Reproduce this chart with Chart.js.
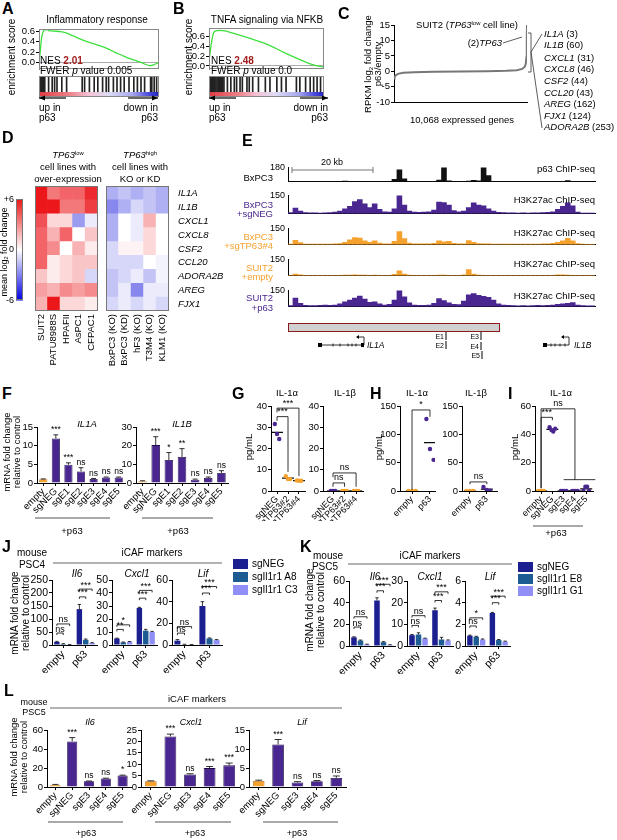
<!DOCTYPE html>
<html><head><meta charset="utf-8">
<script src="https://cdn.jsdelivr.net/npm/chart.js@4.4.1/dist/chart.umd.min.js"></script>
<style>
body{margin:0;background:#fff;}
#fig{position:relative;width:617px;height:840px;overflow:hidden;font-family:'Liberation Sans',Arial,sans-serif;}
#fig canvas{position:absolute;}
#fig div{position:absolute;}
sup{font-size:0.62em;vertical-align:0.5em;line-height:0}
sub{font-size:0.62em;vertical-align:-0.25em;line-height:0}
</style></head>
<body><div id="fig"></div>
<script>
// ---- data ----
const esAx = [0, 1, 2, 4, 6, 8, 12, 18, 22, 28, 35, 42, 50, 57, 63, 69, 75, 80, 85, 88, 92, 95, 97, 100];
const esAy = [0.0, 0.2, 0.45, 0.62, 0.64, 0.62, 0.61, 0.6, 0.58, 0.52, 0.45, 0.39, 0.33, 0.27, 0.2, 0.14, 0.08, 0.04, 0.0, -0.03, -0.06, -0.05, -0.03, 0.0];
const hitsA = [0, 0.8, 1.6, 2.4, 3.2, 4, 4.8, 8, 11, 13, 15, 19, 23, 36, 38, 42, 46, 49, 53, 56, 58, 62, 65, 68, 71, 75, 79, 82, 85, 88, 93, 94, 96, 98];
const esBx = [0, 2, 4, 6, 9, 14, 20, 35, 50, 65, 79, 88, 94, 100];
const esBy = [0.1, 0.45, 0.68, 0.72, 0.73, 0.72, 0.68, 0.57, 0.45, 0.28, 0.13, 0.04, 0.0, -0.02];
const hitsB = [0, 1, 2, 3, 4, 5, 6, 7, 8, 9, 10, 11, 12, 13, 16, 19, 22, 24, 27, 29, 33, 35, 38, 43, 49, 53, 59, 63, 67, 76, 79, 84, 88, 91, 94, 97];

const cRank = [0, 40, 120, 300, 700, 1500, 3000, 5000, 7000, 8500, 9300, 9700, 9900, 9980, 10020, 10045, 10058, 10068];
const cLogFC = [-2.3, -1.8, -1.3, -0.8, -0.45, -0.25, -0.1, 0, 0.08, 0.2, 0.4, 0.8, 1.5, 2.5, 4.5, 7.5, 11, 15];
const cGenes = ['IL1A (3)', 'IL1B (60)', 'CXCL1 (31)', 'CXCL8 (46)', 'CSF2 (44)', 'CCL20 (43)', 'AREG (162)', 'FJX1 (124)', 'ADORA2B (253)'];

const heatGenes = ['IL1A', 'IL1B', 'CXCL1', 'CXCL8', 'CSF2', 'CCL20', 'ADORA2B', 'AREG', 'FJX1'];
const colsLow = ['SUIT2', 'PATU8988S', 'HPAFII', 'AsPC1', 'CFPAC1'];
const colsHigh = ['BxPC3 (KO)', 'BxPC3 (KD)', 'hF3 (KO)', 'T3M4 (KO)', 'KLM1 (KO)'];
const heatLow = [[6, 3.5, 4, 4, 5.5], [6, 6, 3.5, 3.5, 5], [4.5, 1, 1, -2.5, -0.5], [4, 2, 4, 0, 1.5], [4, 3, 0, 2, 0.5],
                 [4, 0.5, 1, 1.5, 1.5], [1.5, 0.5, 1, 1.5, -1], [2.5, 2, 3, 2.5, 3], [2, 6, 1, 1, 0.5]];
const heatHigh = [[-2, -1.5, -2, -1.5, -2], [-3, -2, -1, -1.5, -2], [-2, 0, -0.5, 2, 0], [-2, 0, -0.5, 1, 0], [-1, 0.3, 0.3, 1, 0],
                  [-1, -1, -1, 0, -0.3], [-1.5, -1, -0.5, -1.5, -0.3], [-1.5, -0.5, -3, -0.5, -0.5], [-1, -0.5, -1, -0.5, -1]];

const p63Track = [0,0,0,1,0,0,0,4,0,0, 0,6,0,0,3,0,0,4,0,0, 0,30,150,35,5,0,0,3,0,2, 18,185,10,0,0,3,8,15,10,185, 75,5,1,0,1,0,0,1,0,0, 1,0,0,1,0,2,12,3,0,0, 0,0];
const bxNegTrack = [8,45,20,8,6,6,5,6,8,12, 20,40,60,100,115,80,50,80,35,15, 12,40,150,70,20,12,10,12,15,30, 95,90,70,25,15,20,50,88,70,65, 40,20,10,8,6,6,5,6,5,6, 6,8,10,15,35,60,88,65,12,5, 4,4];
const bxKoTrack = [5,40,18,5,4,4,4,5,5,6, 10,20,45,65,60,35,20,35,15,8, 8,30,120,55,15,8,6,6,8,12, 35,25,30,12,6,8,38,20,10,8, 6,5,4,4,4,4,5,4,4,5, 5,6,8,12,20,35,58,35,10,4, 3,3];
const suitEmptyTrack = [3,14,6,2,2,2,2,3,2,2, 3,4,5,6,5,4,3,4,3,2, 3,12,45,15,4,3,2,2,2,3, 5,4,3,2,3,8,55,15,4,3, 2,2,2,2,2,2,2,2,2,2, 2,2,2,3,6,8,5,3,2,2, 2,2];
const suitP63Track = [10,78,30,12,10,10,12,15,12,15, 25,45,60,80,98,70,40,45,25,15, 20,60,150,90,35,15,12,12,15,30, 75,55,35,20,18,50,110,120,105,95, 85,60,25,15,12,10,8,10,8,10, 12,10,12,15,20,25,30,38,15,10, 8,6];

const fLabels = ['empty', 'sgNEG', 'sgE1', 'sgE2', 'sgE3', 'sgE4', 'sgE5'];
const fIL1A = [1, 11.9, 4.9, 3.1, 1.1, 1.5, 1.5];
const fIL1AErr = [0.1, 1, 0.5, 1, 0.1, 0.1, 0.1];
const fIL1AStars = ['', '***', '***', 'ns', 'ns', 'ns', 'ns'];
const fIL1B = [1, 20.3, 12.3, 13.9, 1.8, 2.7, 5.4];
const fIL1BErr = [0.2, 4.5, 4, 4.5, 0.3, 0.5, 1.2];
const fIL1BStars = ['', '***', '*', '**', 'ns', 'ns', 'ns'];

const gLabels = ['sgNEG', 'sgTP63#2', 'sgTP63#4'];
const gIL1a = [[31.5, 26.8, 24.5], [7, 5.6, 5.6], [5, 4.8, 4.8]];
const gIL1b = [[0, 0, 0], [0, 0, 0], [0, 0, 0]];
const hLabels = ['empty', 'p63'];
const hIL1a = [[0, 0, 0], [127, 74, 55]];
const hIL1b = [[0, 0, 0], [7, 2, 0.5]];
const iLabels = ['empty', 'sgNEG', 'sgE3', 'sgE4', 'sgE5'];
const iIL1a = [[0, 0, 0, 0], [45, 43, 42, 44], [0, 0, 0, 0], [0, 0, 0, 0], [0, 3, 3, 0]];
const jitter3 = [-0.2, 0, 0.2];
const jitter4 = [-0.25, -0.08, 0.08, 0.25];

const groupLabels = ['empty', 'p63'];
const jIl6 = [[12, 138], [4, 20], [1, 8]];
const jIl6Err = [[2, 18], [1, 3], [0.5, 1]];
const jCxcl1 = [[5, 28.5], [2, 11], [2.5, 10]];
const jCxcl1Err = [[0.3, 0.5], [0.3, 1], [0.2, 0.5]];
const jLif = [[4, 36], [0.5, 6], [0.3, 4.5]];
const jLifErr = [[1, 4], [0.2, 0.5], [0.1, 0.5]];
const kIl6 = [[8, 42], [5, 3.5], [1.5, 1]];
const kIl6Err = [[0.5, 2.5], [0.5, 0.5], [0.2, 0.2]];
const kCxcl1 = [[5, 16.5], [5.3, 3], [3.5, 2.5]];
const kCxcl1Err = [[0.3, 1], [0.8, 1], [0.1, 0.3]];
const kLif = [[0.95, 3.05], [0.85, 0.55], [0.6, 0.4]];
const kLifErr = [[0.05, 0.05], [0.05, 0.05], [0.05, 0.05]];

const lLabels = ['empty', 'sgNEG', 'sgE3', 'sgE4', 'sgE5'];
const lIl6 = [2.5, 48, 6, 9, 12];
const lIl6Err = [0.2, 4, 0.3, 0.3, 0.5];
const lIl6Stars = ['', '***', 'ns', 'ns', '*'];
const lCxcl1 = [2.5, 22.2, 5.5, 8.3, 9.5];
const lCxcl1Err = [0.2, 1, 0.3, 0.7, 1];
const lCxcl1Stars = ['', '***', 'ns', '***', '***'];
const lLif = [1.6, 11.2, 1.2, 1.5, 2.4];
const lLifErr = [0.2, 1.3, 0.2, 0.2, 0.5];
const lLifStars = ['', '***', 'ns', 'ns', 'ns'];

// ---- styling ----
const FF = "'Liberation Sans', Arial, sans-serif";
const FN = "'Liberation Sans Narrow', 'Liberation Sans', Arial, sans-serif";
const PURPLE = '#4a2690', ORANGE = '#f4a22d', GREEN = '#3ee03e';
const NAVY = '#1c1f8f', TEAL = '#1d5c92', LAV = '#8f8ff5';

Chart.defaults.font.family = FF;
Chart.defaults.font.size = 9.5;
Chart.defaults.color = '#000';
Chart.defaults.animation = false;
Chart.defaults.plugins.legend.display = false;
Chart.defaults.plugins.tooltip.enabled = false;

const fig = document.getElementById('fig');

const annotPlugin = {
  id: 'annot',
  afterDatasetsDraw(chart, args, opts) {
    const ctx = chart.ctx;
    ctx.save();
    ctx.strokeStyle = '#000';
    ctx.fillStyle = '#000';
    ctx.lineWidth = 0.8;
    ctx.font = (opts.fs || 8) + 'px ' + (opts.ff || FF);
    ctx.textAlign = 'center';
    ctx.textBaseline = 'bottom';
    chart.data.datasets.forEach((ds, di) => {
      if (!ds.err && !ds.stars) return;
      const meta = chart.getDatasetMeta(di);
      const ys = chart.scales[meta.yAxisID];
      meta.data.forEach((el, i) => {
        const v = ds.data[i], e = ds.err ? ds.err[i] : 0;
        const yTop = ys.getPixelForValue(v + e);
        if (e) {
          const w = Math.max(1.5, el.width * 0.3);
          ctx.beginPath();
          ctx.moveTo(el.x, ys.getPixelForValue(v));
          ctx.lineTo(el.x, yTop);
          ctx.moveTo(el.x - w, yTop);
          ctx.lineTo(el.x + w, yTop);
          ctx.stroke();
        }
        if (ds.stars && ds.stars[i]) ctx.fillText(ds.stars[i], el.x, yTop - 1);
      });
    });
    const ys = chart.scales.y, xs = chart.scales.x;
    (opts.groups || []).forEach(g => {
      const x1 = chart.getDatasetMeta(g[1]).data[g[0]].x;
      const x2 = chart.getDatasetMeta(g[2]).data[g[0]].x;
      const y = ys.getPixelForValue(g[3]);
      ctx.beginPath();
      ctx.moveTo(x1, y + 2); ctx.lineTo(x1, y); ctx.lineTo(x2, y); ctx.lineTo(x2, y + 2);
      ctx.stroke();
      ctx.fillText(g[4], (x1 + x2) / 2, y + 0.5);
    });
    (opts.brackets || []).forEach(b => {
      const x1 = xs.getPixelForValue(b.x1), x2 = xs.getPixelForValue(b.x2), y = ys.getPixelForValue(b.y);
      ctx.beginPath();
      ctx.moveTo(x1, ys.getPixelForValue(b.e1)); ctx.lineTo(x1, y); ctx.lineTo(x2, y); ctx.lineTo(x2, ys.getPixelForValue(b.e2));
      if (b.under) {
        const yu = ys.getPixelForValue(b.e2);
        ctx.moveTo(xs.getPixelForValue(b.under[0]), yu);
        ctx.lineTo(xs.getPixelForValue(b.under[1]), yu);
      }
      ctx.stroke();
      ctx.fillText(b.t, (x1 + x2) / 2, y - 0.5);
    });
    ctx.restore();
  }
};

const framePlugin = {
  id: 'frame',
  afterDraw(chart, args, opts) {
    if (!opts.color) return;
    const a = chart.chartArea, ctx = chart.ctx;
    ctx.save();
    ctx.strokeStyle = opts.color;
    ctx.lineWidth = 1;
    ctx.strokeRect(Math.round(a.left) + 0.5, Math.round(a.top) + 0.5, Math.round(a.width) - 1, Math.round(a.height) - 1);
    ctx.restore();
  }
};

const rankPlugin = {
  id: 'rankbar',
  beforeDatasetsDraw(chart, args, opts) {
    if (!opts.on) return;
    const a = chart.chartArea, ctx = chart.ctx;
    const g = ctx.createLinearGradient(a.left, 0, a.right, 0);
    g.addColorStop(0, '#e23a44');
    g.addColorStop(0.25, '#ee8088');
    g.addColorStop(0.42, '#f4c4d6');
    g.addColorStop(0.58, '#dcdcf4');
    g.addColorStop(0.78, '#a8a8ee');
    g.addColorStop(0.92, '#4848dc');
    g.addColorStop(1, '#2222c0');
    ctx.save();
    ctx.fillStyle = g;
    ctx.fillRect(a.left, a.bottom - 5, a.width, 5);
    ctx.restore();
  }
};
Chart.register(annotPlugin, framePlugin, rankPlugin);

// place a chart so that its plot area lands on the given box
function mk(axisX, plotTop, plotW, plotH, yw, xh, config, pad) {
  pad = Object.assign({t: 8, r: 6}, pad || {});
  const c = document.createElement('canvas');
  const W = yw + plotW + pad.r, H = pad.t + plotH + xh;
  c.width = W; c.height = H;
  c.style.cssText = `left:${axisX - yw}px;top:${plotTop - pad.t}px;width:${W}px;height:${H}px`;
  fig.appendChild(c);
  const o = config.options = config.options || {};
  o.responsive = false;
  o.maintainAspectRatio = false;
  o.layout = {padding: {top: pad.t, right: pad.r, left: 0, bottom: 0}};
  if (o.scales.x) o.scales.x.afterFit = s => { s.height = xh; };
  if (o.scales.y) o.scales.y.afterFit = s => { s.width = yw; };
  return new Chart(c, config);
}

const YW = 40;
function yAx(min, max, step, fs, ff) {
  return {type: 'linear', min, max,
    ticks: {stepSize: step, padding: 1, autoSkip: false, font: {size: fs || 9.5, family: ff || FF}},
    grid: {drawOnChartArea: false, tickLength: 3, color: '#000'},
    border: {color: '#000'}};
}
function xCat(fs, ff) {
  return {ticks: {minRotation: 45, maxRotation: 45, autoSkip: false, padding: 0, font: {size: fs, family: ff || FF}},
    grid: {drawOnChartArea: false, tickLength: 3, color: '#000', offset: false},
    border: {color: '#000'}};
}
function xPts(labels, min, max, fs) {
  return {type: 'linear', min, max,
    afterBuildTicks: s => { s.ticks = labels.map((_, i) => ({value: i})); },
    ticks: {callback: v => labels[v], minRotation: 45, maxRotation: 45, autoSkip: false, padding: 0, font: {size: fs || 9}},
    grid: {drawOnChartArea: false, tickLength: 3, color: '#000'},
    border: {color: '#000'}};
}

// ---- A, B: GSEA ----
function gsea(axisX, top, w, h, xs, ys, hits, yMin, yMax) {
  mk(axisX, top, w, h, YW, 0, {
    type: 'scatter',
    data: {datasets: [{data: xs.map((x, i) => ({x, y: ys[i]})), showLine: true, borderColor: GREEN, borderWidth: 1.3,
      pointRadius: 0, cubicInterpolationMode: 'monotone'}]},
    options: {
      scales: {
        x: {type: 'linear', display: false, min: 0, max: 100},
        y: {min: yMin, max: yMax,
          afterBuildTicks: s => { s.ticks = [0, 0.2, 0.4, 0.6].map(v => ({value: v})); },
          ticks: {callback: v => v.toFixed(1), padding: 1, autoSkip: false},
          grid: {color: c => (c.tick && c.tick.value === 0) ? '#aaa' : 'rgba(0,0,0,0)', tickColor: '#000', tickLength: 3},
          border: {color: '#888'}}
      },
      plugins: {frame: {color: '#888'}}
    }
  });
  mk(axisX, top + h, w, 21, 0, 0, {
    type: 'bar',
    data: {datasets: [{data: hits.map(x => ({x, y: [0.25, 1]})), backgroundColor: '#222', barThickness: 1}]},
    options: {
      scales: {
        x: {type: 'linear', display: false, min: 0, max: 100, offset: false},
        y: {display: false, min: 0, max: 1}
      },
      plugins: {frame: {color: '#888'}, rankbar: {on: true}}
    }
  }, {t: 0, r: 2});
}
gsea(39, 29, 120, 47, esAx, esAy, hitsA, -0.133, 0.65);
gsea(209, 28, 115, 48, esBx, esBy, hitsB, -0.07, 0.78);

// ---- C: ranked fold change ----
mk(394, 25, 133, 84, YW, 0, {
  type: 'scatter',
  data: {datasets: [{data: cRank.map((x, i) => ({x, y: cLogFC[i]})), showLine: true, borderColor: '#777', borderWidth: 2, pointRadius: 0}]},
  options: {
    scales: {
      x: {type: 'linear', min: 0, max: 10068, ticks: {display: false}, grid: {display: false, drawTicks: false}, border: {color: '#000'}},
      y: yAx(-10, 15, 5)
    }
  }
});

// ---- D: heatmap ----
function heatColor(v) {
  const t = Math.max(-1, Math.min(1, v / 6));
  if (t >= 0) return `rgb(${Math.round(255 - 20 * t)},${Math.round(255 - 232 * t)},${Math.round(255 - 228 * t)})`;
  const u = -t;
  return `rgb(${Math.round(255 - 240 * u)},${Math.round(255 - 240 * u)},${Math.round(255 - 35 * u)})`;
}
function heatSets(rows) {
  return heatGenes.map((g, r) => ({label: g, data: rows[r].map(() => 1), backgroundColor: rows[r].map(heatColor),
    borderWidth: 0, barPercentage: 1, categoryPercentage: 1})).reverse();
}
function heat(axisX, cols, rows) {
  mk(axisX, 186, 69, 125, 0, 62, {
    type: 'bar',
    data: {labels: cols, datasets: heatSets(rows)},
    options: {
      scales: {
        x: {stacked: true, ticks: {minRotation: 90, maxRotation: 90, autoSkip: false, padding: 3, font: {size: 9.5}},
          grid: {display: false, drawTicks: false}, border: {display: false}},
        y: {display: false, stacked: true, min: 0, max: 9}
      },
      plugins: {frame: {color: '#777'}}
    }
  }, {t: 2, r: 2});
}
heat(35, colsLow, heatLow);
heat(106, colsHigh, heatHigh);

mk(16, 198, 7, 110, 30, 0, {
  type: 'bar',
  data: {labels: [''], datasets: [{data: [[-6, 6]], borderWidth: 0, barPercentage: 1, categoryPercentage: 1,
    backgroundColor: c => {
      const a = c.chart.chartArea;
      if (!a) return '#fff';
      const g = c.chart.ctx.createLinearGradient(0, a.bottom, 0, a.top);
      g.addColorStop(0, '#0000e6'); g.addColorStop(0.5, '#ffffff'); g.addColorStop(1, '#eb1717');
      return g;
    }}]},
  options: {
    scales: {
      x: {display: false},
      y: {min: -6, max: 6, afterBuildTicks: s => { s.ticks = [-6, 0, 6].map(v => ({value: v})); },
        ticks: {callback: v => v > 0 ? '+' + v : String(v), padding: 2, autoSkip: false, font: {size: 9}},
        grid: {display: false, drawTicks: false}, border: {display: false}}
    },
    plugins: {frame: {color: '#777'}}
  }
}, {t: 6, r: 2});

// ---- E: ChIP-seq tracks ----
function track(top, h, max, data, color) {
  mk(288, top, 307, h, YW, 0, {
    type: 'bar',
    data: {labels: data.map((_, i) => i), datasets: [{data, backgroundColor: color, borderWidth: 0, barPercentage: 1, categoryPercentage: 1, clip: 0}]},
    options: {
      scales: {
        x: {ticks: {display: false}, grid: {display: false, drawTicks: false}, border: {color: '#000'}},
        y: {min: 0, max, afterBuildTicks: s => { s.ticks = [{value: max}]; }, ticks: {padding: 3, font: {size: 9}},
          grid: {display: false, drawTicks: false}, border: {color: '#000'}}
      }
    }
  }, {t: 6, r: 2});
}
track(165, 25, 180, p63Track, '#111');
track(193, 29, 150, bxNegTrack, PURPLE);
track(226, 27, 150, bxKoTrack, ORANGE);
track(257, 27, 150, suitEmptyTrack, ORANGE);
track(288, 27, 150, suitP63Track, PURPLE);

// ---- F, L: bars with error ----
function barsStars(axisX, top, w, h, xh, min, max, step, labels, vals, errs, stars, fs, tfs, ff, bp) {
  mk(axisX, top, w, h, YW, xh, {
    type: 'bar',
    data: {labels, datasets: [{data: vals, err: errs, stars, backgroundColor: vals.map((_, i) => i === 0 ? ORANGE : PURPLE),
      borderColor: vals.map((_, i) => i === 0 ? '#b86a10' : '#1d0a45'), borderWidth: 0.8, barPercentage: bp, categoryPercentage: 1}]},
    options: {
      scales: {x: xCat(tfs, ff), y: yAx(min, max, step, tfs, ff)},
      plugins: {annot: {fs, ff}}
    }
  });
}
barsStars(37, 427, 88, 56, 32, 0, 15, 5, fLabels, fIL1A, fIL1AErr, fIL1AStars, 8.5, 9.5, FF, 0.65);
barsStars(136, 427, 92, 56, 32, 0, 30, 10, fLabels, fIL1B, fIL1BErr, fIL1BStars, 8.5, 9.5, FF, 0.65);

// ---- G, H, I: dot plots ----
function dotChart(axisX, w, max, step, labels, groups, colors, jit, xmin, xmax, brackets) {
  const sets = groups.map((vals, g) => ({data: vals.map((v, k) => ({x: g + jit[k], y: v})), backgroundColor: colors[g],
    borderColor: colors[g], pointRadius: 2.2, borderWidth: 0}));
  sets.push({data: groups.map((vals, g) => ({x: g, y: vals.reduce((a, b) => a + b, 0) / vals.length})),
    pointStyle: 'line', pointRadius: 6, borderColor: '#000', borderWidth: 1.2});
  mk(axisX, 406, w, 85, YW, 30, {
    type: 'scatter',
    data: {datasets: sets},
    options: {
      scales: {x: xPts(labels, xmin, xmax, 9), y: yAx(0, max, step)},
      plugins: {annot: {fs: 9, brackets}}
    }
  }, {r: 8});
}
dotChart(271, 34, 40, 10, gLabels, gIL1a, [PURPLE, ORANGE, ORANGE], jitter3, -0.55, 2.55,
  [{x1: 0, x2: 1, y: 35, e1: 33, e2: 9, t: '***'}, {x1: 0, x2: 2, y: 39, e1: 37, e2: 7, t: '***'}]);
dotChart(323, 40, 40, 10, gLabels, gIL1b, [PURPLE, ORANGE, ORANGE], jitter3, -0.87, 2.6,
  [{x1: 0, x2: 1, y: 3.8, e1: 2, e2: 2, t: 'ns'}, {x1: 0, x2: 2, y: 8.5, e1: 6.5, e2: 2, t: 'ns'}]);
dotChart(400, 35, 150, 50, hLabels, hIL1a, [ORANGE, PURPLE], jitter3, -0.67, 1.28,
  [{x1: 0, x2: 1, y: 143, e1: 2, e2: 131, t: '*'}]);
dotChart(462, 35, 150, 50, hLabels, hIL1b, [ORANGE, PURPLE], jitter3, -0.47, 1.6,
  [{x1: 0, x2: 1, y: 16, e1: 12, e2: 12, t: 'ns'}]);
dotChart(535, 58, 60, 20, iLabels, iIL1a, [ORANGE, PURPLE, PURPLE, PURPLE, PURPLE], jitter4, -0.54, 4.6,
  [{x1: 0, x2: 1, y: 52, e1: 2, e2: 50, t: '***'}, {x1: 0, x2: 3, y: 58, e1: 2, e2: 8, t: 'ns', under: [2, 4.8]}]);

// ---- J, K: grouped bars ----
const grpColors = [NAVY, TEAL, LAV];
function grp(axisX, top, w, max, step, sets, errs, groups) {
  mk(axisX, top, w, 65, YW, 28, {
    type: 'bar',
    data: {labels: groupLabels, datasets: sets.map((d, k) => ({data: d, err: errs[k], backgroundColor: grpColors[k],
      borderWidth: 0, barPercentage: 0.85, categoryPercentage: 0.85}))},
    options: {
      scales: {x: xCat(10.5), y: yAx(0, max, step, 10.5)},
      plugins: {annot: {fs: 9, groups}}
    }
  });
}
grp(52, 580, 45, 250, 50, jIl6, jIl6Err, [[0, 0, 1, 46, 'ns'], [0, 0, 2, 81, 'ns'], [1, 0, 1, 185, '***'], [1, 0, 2, 215, '***']]);
grp(112, 580, 45, 50, 10, jCxcl1, jCxcl1Err, [[0, 0, 1, 12, '**'], [0, 0, 2, 15.5, '*'], [1, 0, 1, 36, '***'], [1, 0, 2, 42, '***']]);
grp(172, 580, 50, 60, 20, jLif, jLifErr, [[0, 0, 1, 11, 'ns'], [0, 0, 2, 17, 'ns'], [1, 0, 1, 48, '***'], [1, 0, 2, 54, '***']]);
grp(349, 581, 46, 60, 20, kIl6, kIl6Err, [[0, 0, 1, 17.5, 'ns'], [0, 0, 2, 27, 'ns'], [1, 0, 1, 51, '***'], [1, 0, 2, 57, '***']]);
grp(407, 581, 46, 30, 10, kCxcl1, kCxcl1Err, [[0, 0, 1, 9.5, 'ns'], [0, 0, 2, 14, 'ns'], [1, 0, 1, 21, '***'], [1, 0, 2, 25, '***']]);
grp(465, 581, 45, 6, 2, kLif, kLifErr, [[0, 0, 1, 1.85, 'ns'], [0, 0, 2, 2.6, '*'], [1, 0, 1, 4.0, '***'], [1, 0, 2, 4.6, '***']]);

// ---- L ----
barsStars(47, 730, 84, 57, 34, 0, 60, 20, lLabels, lIl6, lIl6Err, lIl6Stars, 8.5, 9.5, FN, 0.6);
barsStars(141, 730, 98, 57, 34, 0, 25, 5, lLabels, lCxcl1, lCxcl1Err, lCxcl1Stars, 8.5, 9.5, FN, 0.6);
barsStars(249, 730, 97, 57, 34, 0, 15, 5, lLabels, lLif, lLifErr, lLifStars, 8.5, 9.5, FN, 0.6);

// ---- text ----
function T(x, y, html, o) {
  o = o || {};
  const d = document.createElement('div');
  const ax = o.a === 'c' ? '-50%' : o.a === 'r' ? '-100%' : '0';
  d.innerHTML = html;
  d.style.cssText = `left:${x}px;top:${y}px;font-size:${o.s || 10}px;line-height:${o.lh || 1};white-space:nowrap;text-align:center;` +
    `color:${o.c || '#000'};font-weight:${o.b ? 'bold' : 'normal'};font-style:${o.i ? 'italic' : 'normal'};` +
    `font-family:${o.f || FF};transform:translate(${o.rot ? '-50%' : ax},-50%)${o.rot ? ' rotate(-90deg)' : ''};`;
  fig.appendChild(d);
}
const P = {s: 16, b: 1};
// A / B
T(2, 9, 'A', P);
T(97, 20, 'Inflammatory response', {a: 'c'});
T(12, 57, 'enrichment score', {rot: 1});
T(40, 61, 'NES <b style="color:#a11d1d">2.01</b>');
T(40, 71, 'FWER <i>p</i> value 0.005');
T(39, 108, 'up in'); T(39, 118, 'p63');
T(158, 108, 'down in', {a: 'r'}); T(158, 118, 'p63', {a: 'r'});
T(173, 9, 'B', P);
T(267, 20, 'TNFA signaling via NFKB', {a: 'c'});
T(189, 57, 'enrichment score', {rot: 1});
T(211, 61, 'NES <b style="color:#a11d1d">2.48</b>');
T(211, 71, 'FWER <i>p</i> value 0.0');
T(209, 108, 'up in'); T(209, 118, 'p63');
T(328, 108, 'down in', {a: 'r'}); T(328, 118, 'p63', {a: 'r'});
// C
T(338, 14, 'C', P);
T(373, 64, 'RPKM log<sub>2</sub> fold change<br>p63/empty', {rot: 1, s: 9.5, lh: 1.05});
T(467, 25, 'SUIT2 (<i>TP63</i><sup>low</sup> cell line)', {a: 'c', s: 9.5});
T(502, 43, '(2)<i>TP63</i>', {a: 'r', s: 9.5});
const cY = [34, 45, 58, 69, 81, 93, 104, 116, 127];
cGenes.forEach((g, i) => {
  const sp = g.indexOf(' ');
  T(544, cY[i], '<i>' + g.slice(0, sp) + '</i>' + g.slice(sp), {s: 9.5});
});
T(462, 120, '10,068 expressed genes', {a: 'c', s: 9.5});
// D
T(2, 138, 'D', P);
T(68, 155, '<i>TP63</i><sup>low</sup>', {a: 'c', s: 9.5});
T(68, 167, 'cell lines with', {a: 'c', s: 9.5});
T(68, 179, 'over-expression', {a: 'c', s: 9.5});
T(140, 155, '<i>TP63</i><sup>high</sup>', {a: 'c', s: 9.5});
T(140, 167, 'cell lines with', {a: 'c', s: 9.5});
T(140, 179, 'KO or KD', {a: 'c', s: 9.5});
heatGenes.forEach((g, i) => T(178, 186 + 13.9 * (i + 0.5), g, {i: 1, s: 9.5}));
T(4, 252, 'mean log<sub>2</sub> fold change', {rot: 1, s: 9});
// E
T(242, 141, 'E', P);
T(332, 162, '20 kb', {a: 'c', s: 9});
const eL = [[178, 'BxPC3', '#000'], [205, 'BxPC3', PURPLE], [214, '+sgNEG', PURPLE], [237, 'BxPC3', ORANGE], [246, '+sgTP63#4', ORANGE],
            [268, 'SUIT2', ORANGE], [277, '+empty', ORANGE], [298, 'SUIT2', PURPLE], [308, '+p63', PURPLE]];
eL.forEach(r => T(273, r[0], r[1], {a: 'r', s: 9.5, c: r[2]}));
T(595, 169, 'p63 ChIP-seq', {a: 'r', s: 9.5});
[200, 233, 264, 296].forEach(y => T(595, y, 'H3K27ac ChIP-seq', {a: 'r', s: 9.5}));
T(393, 327, 'SUPER ENHANCER', {a: 'c', s: 7.5});
T(444, 336, 'E1', {a: 'r', s: 7}); T(444, 345, 'E2', {a: 'r', s: 7});
T(479, 336, 'E3', {a: 'r', s: 7}); T(479, 346, 'E4', {a: 'r', s: 7}); T(480, 355, 'E5', {a: 'r', s: 7});
T(367, 345, 'IL1A', {i: 1, s: 8.5});
T(574, 345, 'IL1B', {i: 1, s: 8.5});
// F
T(2, 394, 'F', P);
T(87, 424, 'IL1A', {a: 'c', i: 1, s: 9.5});
T(182, 424, 'IL1B', {a: 'c', i: 1, s: 9.5});
T(12, 452, 'mRNA fold change<br>relative to control', {rot: 1, s: 9.5, lh: 1.05});
T(72, 531, '+p63', {a: 'c', s: 9.5}); T(178, 531, '+p63', {a: 'c', s: 9.5});
// G H I
T(232, 394, 'G', P);
T(287, 393, 'IL-1α', {a: 'c', s: 9.5}); T(345, 393, 'IL-1β', {a: 'c', s: 9.5});
T(249, 447, 'pg/mL', {rot: 1, s: 9.5});
T(370, 394, 'H', P);
T(417, 393, 'IL-1α', {a: 'c', s: 9.5}); T(476, 393, 'IL-1β', {a: 'c', s: 9.5});
T(379, 447, 'pg/mL', {rot: 1, s: 9.5});
T(508, 394, 'I', P);
T(561, 393, 'IL-1α', {a: 'c', s: 9.5});
T(515, 447, 'pg/mL', {rot: 1, s: 9.5});
T(556, 533, '+p63', {a: 'c', s: 9.5});
// J
T(2, 547, 'J', P);
T(32, 553, 'mouse', {a: 'c'}); T(32, 565, 'PSC4', {a: 'c'});
T(152, 553, 'iCAF markers', {a: 'c'});
T(77, 574, 'Il6', {a: 'c', i: 1}); T(137, 574, 'Cxcl1', {a: 'c', i: 1}); T(203, 574, 'Lif', {a: 'c', i: 1});
T(20, 613, 'mRNA fold change<br>relative to control', {rot: 1, lh: 1.05});
// K
T(300, 547, 'K', P);
T(328, 556, 'mouse', {a: 'c'}); T(325, 567, 'PSC5', {a: 'c'});
T(430, 556, 'iCAF markers', {a: 'c'});
T(375, 577, 'Il6', {a: 'c', i: 1}); T(430, 577, 'Cxcl1', {a: 'c', i: 1}); T(490, 577, 'Lif', {a: 'c', i: 1});
T(315, 610, 'mRNA fold change<br>relative to control', {rot: 1, lh: 1.05});
// legends J, K
function legend(x, ys, names) {
  names.forEach((n, k) => {
    const sw = document.createElement('div');
    sw.style.cssText = `left:${x}px;top:${ys[k] - 5}px;width:15px;height:10px;background:${grpColors[k]};`;
    fig.appendChild(sw);
    T(x + 19, ys[k], n);
  });
}
legend(233, [564, 577, 590], ['sgNEG', 'sgIl1r1 A8', 'sgIl1r1 C3']);
legend(518, [567, 579, 591], ['sgNEG', 'sgIl1r1 E8', 'sgIl1r1 G1']);
// L
T(4, 691, 'L', P);
T(34, 702, 'mouse', {a: 'c', s: 9}); T(34, 712, 'PSC5', {a: 'c', s: 9});
T(197, 699, 'iCAF markers', {a: 'c', s: 9.5});
T(90, 722, 'Il6', {a: 'c', i: 1, s: 9, f: FN}); T(191, 722, 'Cxcl1', {a: 'c', i: 1, s: 9, f: FN}); T(302, 722, 'Lif', {a: 'c', i: 1, s: 9, f: FN});
T(19, 757, 'mRNA fold change<br>relative to control', {rot: 1, s: 9.5, lh: 1.05});
T(86, 833, '+p63', {a: 'c', s: 9}); T(195, 833, '+p63', {a: 'c', s: 9}); T(297, 833, '+p63', {a: 'c', s: 9});

// ---- line decorations ----
const sv = [];
function ln(x1, y1, x2, y2, c, w) { sv.push(`<line x1="${x1}" y1="${y1}" x2="${x2}" y2="${y2}" stroke="${c || '#000'}" stroke-width="${w || 1}"/>`); }
function arrow(x1, x2, y) {
  ln(x1, y, x2, y, '#000', 1.2);
  const d = x2 > x1 ? -1 : 1;
  sv.push(`<polygon points="${x2},${y} ${x2 + d * 6},${y - 2.5} ${x2 + d * 6},${y + 2.5}" fill="#000"/>`);
}
arrow(66, 39, 98); arrow(128, 158, 98);
arrow(236, 209, 98); arrow(300, 328, 98);
// C bracket
sv.push('<polyline points="528,33 531,33 531,72 528,72" fill="none" stroke="#333" stroke-width="0.8"/>');
ln(531, 52, 542, 34, '#333', 0.8); ln(531, 52, 542, 128, '#333', 0.8);
ln(503, 43, 522, 37, '#333', 0.8);
// E decorations
ln(292, 170, 373, 170, '#777', 1.2); ln(292, 167, 292, 173, '#777'); ln(373, 167, 373, 173, '#777');
sv.push('<rect x="288.5" y="323.5" width="211" height="8" fill="#d0d0d0" stroke="#8b1a1a" stroke-width="1"/>');
ln(446, 332, 446, 340); ln(446, 341, 446, 349); ln(481, 332, 481, 340); ln(481, 342, 481, 350); ln(482, 351, 482, 359);
ln(318, 345, 364, 345, '#000', 0.8);
sv.push('<rect x="318" y="343" width="4" height="4" fill="#000"/><rect x="361" y="343" width="3" height="4" fill="#000"/>');
[333, 340, 348, 352, 356].forEach(x => ln(x, 343.5, x, 346.5, '#000', 0.8));
ln(364, 345, 364, 337, '#000', 0.8); ln(364, 337, 358, 337, '#000', 0.8);
sv.push('<polygon points="356,337 359,335 359,339" fill="#000"/>');
ln(543, 345, 569, 345, '#000', 0.8);
sv.push('<rect x="543" y="343" width="4" height="4" fill="#000"/>');
[551, 555, 560, 565].forEach(x => ln(x, 343.5, x, 346.5, '#000', 0.8));
ln(569, 345, 569, 337, '#000', 0.8); ln(569, 337, 563, 337, '#000', 0.8);
sv.push('<polygon points="561,337 564,335 564,339" fill="#000"/>');
// group lines
ln(35, 518, 110, 518, '#555'); ln(142, 518, 213, 518, '#555');
ln(533, 526, 583, 526, '#555');
ln(53, 563, 222, 563, '#666'); ln(348, 564, 512, 564, '#666');
ln(50, 708, 342, 708, '#666');
ln(48, 822, 123, 822, '#555'); ln(155, 822, 231, 822, '#555'); ln(263, 822, 338, 822, '#555');
fig.insertAdjacentHTML('beforeend', `<svg width="617" height="840" style="position:absolute;left:0;top:0;pointer-events:none">${sv.join('')}</svg>`);
</script>
</body></html>
